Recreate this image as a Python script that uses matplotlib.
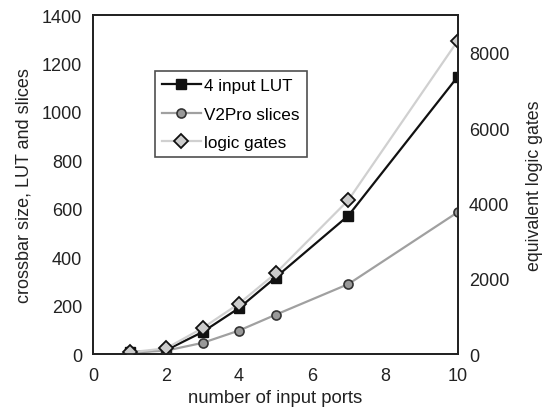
import numpy as np
from matplotlib import pyplot as plt

plt.rcParams['font.family'] = ['Liberation Sans', 'DejaVu Sans']

ports = [1, 2, 3, 4, 5, 7, 10]
lut = [8, 16, 91, 190, 316, 572, 1146]
slices = [6, 14, 46, 97, 162, 289, 586]
gates = [45, 150, 690, 1340, 2140, 4090, 8320]

fig = plt.figure(figsize=(5.44, 4.14), dpi=100)
ax = fig.add_axes([0.1715, 0.1425, 0.67, 0.8185])
ax2 = ax.twinx()

l1, = ax.plot(ports, lut, color='#111111', lw=1.6, marker='s', ms=7,
              mfc='#111111', mec='#111111', label='4 input LUT', zorder=3)
l2, = ax.plot(ports, slices, color='#a0a0a0', lw=1.6, marker='o', ms=6.5,
              mfc='#999999', mec='#333333', mew=1.2, label='V2Pro slices', zorder=3)
l3, = ax2.plot(ports, gates, color='#d0d0d0', lw=1.6, marker='D', ms=7,
               mfc='#cccccc', mec='#111111', mew=1.3, label='logic gates')

ax.set_xlim(0, 10)
ax.set_ylim(0, 1400)
ax2.set_ylim(0, 9000)
ax.set_xticks(np.arange(0, 11, 2))
ax.set_yticks(np.arange(0, 1401, 200))
ax2.set_yticks(np.arange(0, 8001, 2000))

for a in (ax, ax2):
    a.tick_params(length=0, labelsize=13, colors='#222222', pad=8)
    for s in a.spines.values():
        s.set_linewidth(1.3)
        s.set_color('#222222')
ax.tick_params(axis='x', pad=9)

ax.set_xlabel('number of input ports', fontsize=13.3, color='#222222', labelpad=4)
ax.set_ylabel('crossbar size, LUT and slices', fontsize=13, color='#222222', labelpad=7)
ax2.set_ylabel('equivalent logic gates', fontsize=12.8, color='#222222', labelpad=12)

leg = ax2.legend([l1, l2, l3], ['4 input LUT', 'V2Pro slices', 'logic gates'],
                 loc='upper left', bbox_to_anchor=(0.169, 0.834), fontsize=12.3,
                 frameon=True, fancybox=False, handlelength=2.3, handletextpad=0.2,
                 borderpad=0.4, labelspacing=0.78, borderaxespad=0)
leg.get_frame().set_edgecolor('#222222')
leg.get_frame().set_linewidth(1.2)

plt.savefig('out.png', dpi=100)
